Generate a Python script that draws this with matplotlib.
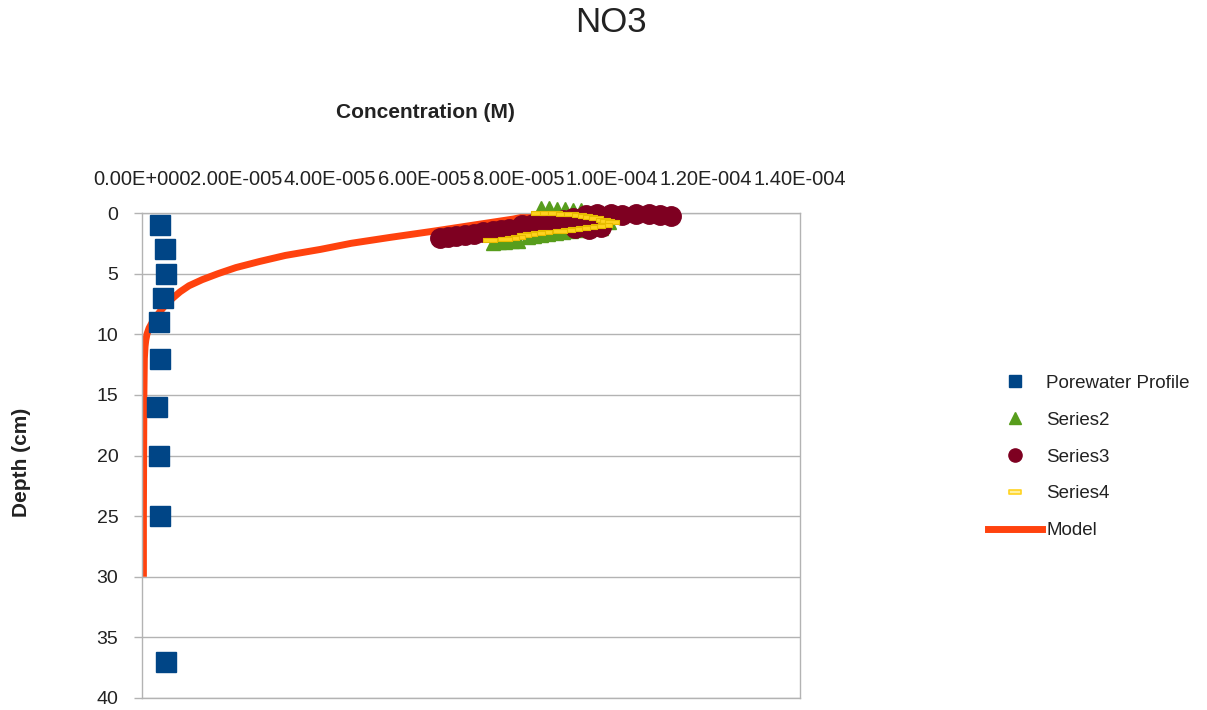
import matplotlib
matplotlib.use("Agg")
import matplotlib.pyplot as plt
from matplotlib.lines import Line2D
from matplotlib.path import Path

plt.rcParams['font.family'] = ['Liberation Sans', 'DejaVu Sans']

# ---- data ----
# porewater profile: depth (cm), concentration (M)
pw_depth = [1, 3, 5, 7, 9, 12, 16, 20, 25, 37]
pw_conc = [3.8e-6, 4.8e-6, 5.2e-6, 4.5e-6, 3.6e-6, 3.8e-6, 3.2e-6, 3.6e-6, 3.8e-6, 5.0e-6]

s2_depth = [-0.41, -0.41, -0.33, -0.33, -0.25, -0.25, 0.16, 0.41, 0.74,
            1.24, 1.32, 1.40, 1.48, 1.57, 1.65, 1.73, 1.81, 1.90, 1.98, 2.31, 2.35, 2.39, 2.43, 2.47]
s2_conc = [8.48e-5, 8.67e-5, 8.84e-5, 9.01e-5, 9.18e-5, 9.33e-5, 9.54e-5, 9.76e-5, 9.93e-5,
           9.76e-5, 9.44e-5, 9.28e-5, 9.12e-5, 8.96e-5, 8.80e-5, 8.64e-5, 8.48e-5, 8.35e-5, 8.22e-5,
           8.01e-5, 7.87e-5, 7.73e-5, 7.60e-5, 7.46e-5]

s3_depth = [2.06, 1.98, 1.90, 1.81, 1.73, 1.57, 1.48, 1.40, 1.32,
            0.99, 0.91, 0.74, 0.66, 0.58, 0.41,
            0.16, 0.08, 0.08, 0.16, 0.08, 0.08, 0.16, 0.25,
            1.24, 1.32, 1.15]
s3_conc = [6.35e-5, 6.52e-5, 6.69e-5, 6.88e-5, 7.07e-5, 7.26e-5, 7.46e-5, 7.63e-5, 7.80e-5,
           8.09e-5, 8.31e-5, 8.52e-5, 8.73e-5, 8.95e-5, 9.16e-5,
           9.44e-5, 9.69e-5, 9.97e-5, 1.022e-4, 1.050e-4, 1.078e-4, 1.103e-4, 1.125e-4,
           9.22e-5, 9.50e-5, 9.76e-5]

s4_depth = [0.0, 0.0, 0.0, 0.08, 0.08, 0.16, 0.25, 0.33, 0.45, 0.58, 0.66, 0.74,
            0.99, 1.07, 1.15, 1.24, 1.32, 1.40, 1.48, 1.57, 1.65, 1.73, 1.85, 1.98, 2.06, 2.14, 2.23]
s4_conc = [8.43e-5, 8.61e-5, 8.78e-5, 8.95e-5, 9.12e-5, 9.29e-5, 9.42e-5, 9.54e-5, 9.67e-5, 9.80e-5,
           9.90e-5, 1.001e-4,
           9.86e-5, 9.70e-5, 9.54e-5, 9.38e-5, 9.22e-5, 9.06e-5, 8.90e-5, 8.58e-5, 8.42e-5, 8.26e-5,
           8.13e-5, 8.01e-5, 7.87e-5, 7.73e-5, 7.41e-5]

model_depth = [0, 0.5, 1, 1.5, 2, 2.5, 3, 3.5, 4, 4.5, 5, 5.5, 6, 6.5, 7, 7.5, 8, 8.5, 9, 9.5,
               10, 10.5, 11, 12, 15, 20, 25, 30]
model_conc = [8.5e-5, 7.9e-5, 7.05e-5, 6.2e-5, 5.3e-5, 4.45e-5, 3.8e-5, 3.05e-5, 2.5e-5, 2.0e-5,
              1.62e-5, 1.28e-5, 1.0e-5, 8.1e-6, 6.6e-6, 5.2e-6, 4.1e-6, 3.1e-6, 2.2e-6, 1.5e-6,
              1.05e-6, 8e-7, 6.5e-7, 5e-7, 4e-7, 3.5e-7, 3e-7, 3e-7]

xticks = [0, 2e-5, 4e-5, 6e-5, 8e-5, 1e-4, 1.2e-4, 1.4e-4]
xtick_labels = ['0.00E+000', '2.00E-005', '4.00E-005', '6.00E-005',
                '8.00E-005', '1.00E-004', '1.20E-004', '1.40E-004']
yticks = [0, 5, 10, 15, 20, 25, 30, 35, 40]

c_blue = '#004586'
c_green = '#579D1C'
c_maroon = '#7E0021'
c_yellow = '#FFD320'
c_orange = '#FF420E'
grid_c = '#b3b3b3'
text_c = '#222222'

# flat rectangle marker for Series4
rect = Path([(-1, -0.35), (1, -0.35), (1, 0.35), (-1, 0.35), (-1, -0.35)],
            [Path.MOVETO, Path.LINETO, Path.LINETO, Path.LINETO, Path.CLOSEPOLY])

fig = plt.figure(figsize=(12.07, 7.10), dpi=100)
ax = fig.add_axes([142 / 1207, 1 - 698 / 710, 658 / 1207, 485 / 710])

ax.plot(model_conc, model_depth, color=c_orange, lw=5, zorder=2, solid_capstyle='butt')
ax.plot(pw_conc, pw_depth, ls='none', marker='s', ms=14, color=c_blue, zorder=3)
ax.plot(s2_conc, s2_depth, ls='none', marker='^', ms=10, color=c_green, zorder=4, clip_on=False)
ax.plot(s3_conc, s3_depth, ls='none', marker='o', ms=14, color=c_maroon, zorder=5, clip_on=False)
ax.plot(s4_conc, s4_depth, ls='none', marker=rect, ms=10, markerfacecolor=c_yellow,
        markeredgecolor='#E8BC00', markeredgewidth=0.8, zorder=6, clip_on=False)

ax.set_xlim(0, 1.4e-4)
ax.set_ylim(40, 0)
ax.xaxis.tick_top()
ax.set_xticks(xticks)
ax.set_xticklabels(xtick_labels)
ax.set_yticks(yticks)
ax.tick_params(axis='x', length=0, pad=17, labelsize=14.5, colors=text_c)
ax.tick_params(axis='y', length=6, width=1, color=grid_c, pad=11, labelsize=14, labelcolor=text_c)
ax.grid(axis='y', color=grid_c, lw=1)
ax.set_axisbelow(True)
for s in ['left', 'right', 'top', 'bottom']:
    ax.spines[s].set_color(grid_c)
    ax.spines[s].set_linewidth(1)

fig.text(611 / 1207, 1 - 22 / 710, 'NO3', ha='center', va='center', fontsize=25, color=text_c)
fig.text(425 / 1207, 1 - 112 / 710, 'Concentration (M)', ha='center', va='center',
         fontsize=15, fontweight='bold', color=text_c)
fig.text(22 / 1207, 1 - 462 / 710, 'Depth (cm)', ha='center', va='center', rotation=90,
         fontsize=15, fontweight='bold', color=text_c)

handles = [
    Line2D([], [], ls='none', marker='s', ms=8.5, color=c_blue),
    Line2D([], [], ls='none', marker='^', ms=9, color=c_green),
    Line2D([], [], ls='none', marker='o', ms=9.5, color=c_maroon),
    Line2D([], [], ls='none', marker=rect, ms=9, markerfacecolor='#FFF0A0',
           markeredgecolor=c_yellow, markeredgewidth=1.2),
    Line2D([], [], color=c_orange, lw=5),
]
labels = ['Porewater Profile', 'Series2', 'Series3', 'Series4', 'Model']
fig.legend(handles, labels, loc='center left', bbox_to_anchor=(988 / 1207, 1 - 457 / 710),
           frameon=False, fontsize=13.5, handlelength=2.9, handletextpad=0.2,
           labelspacing=1.05, borderpad=0, borderaxespad=0, labelcolor=text_c)

fig.savefig('out.png', dpi=100)
